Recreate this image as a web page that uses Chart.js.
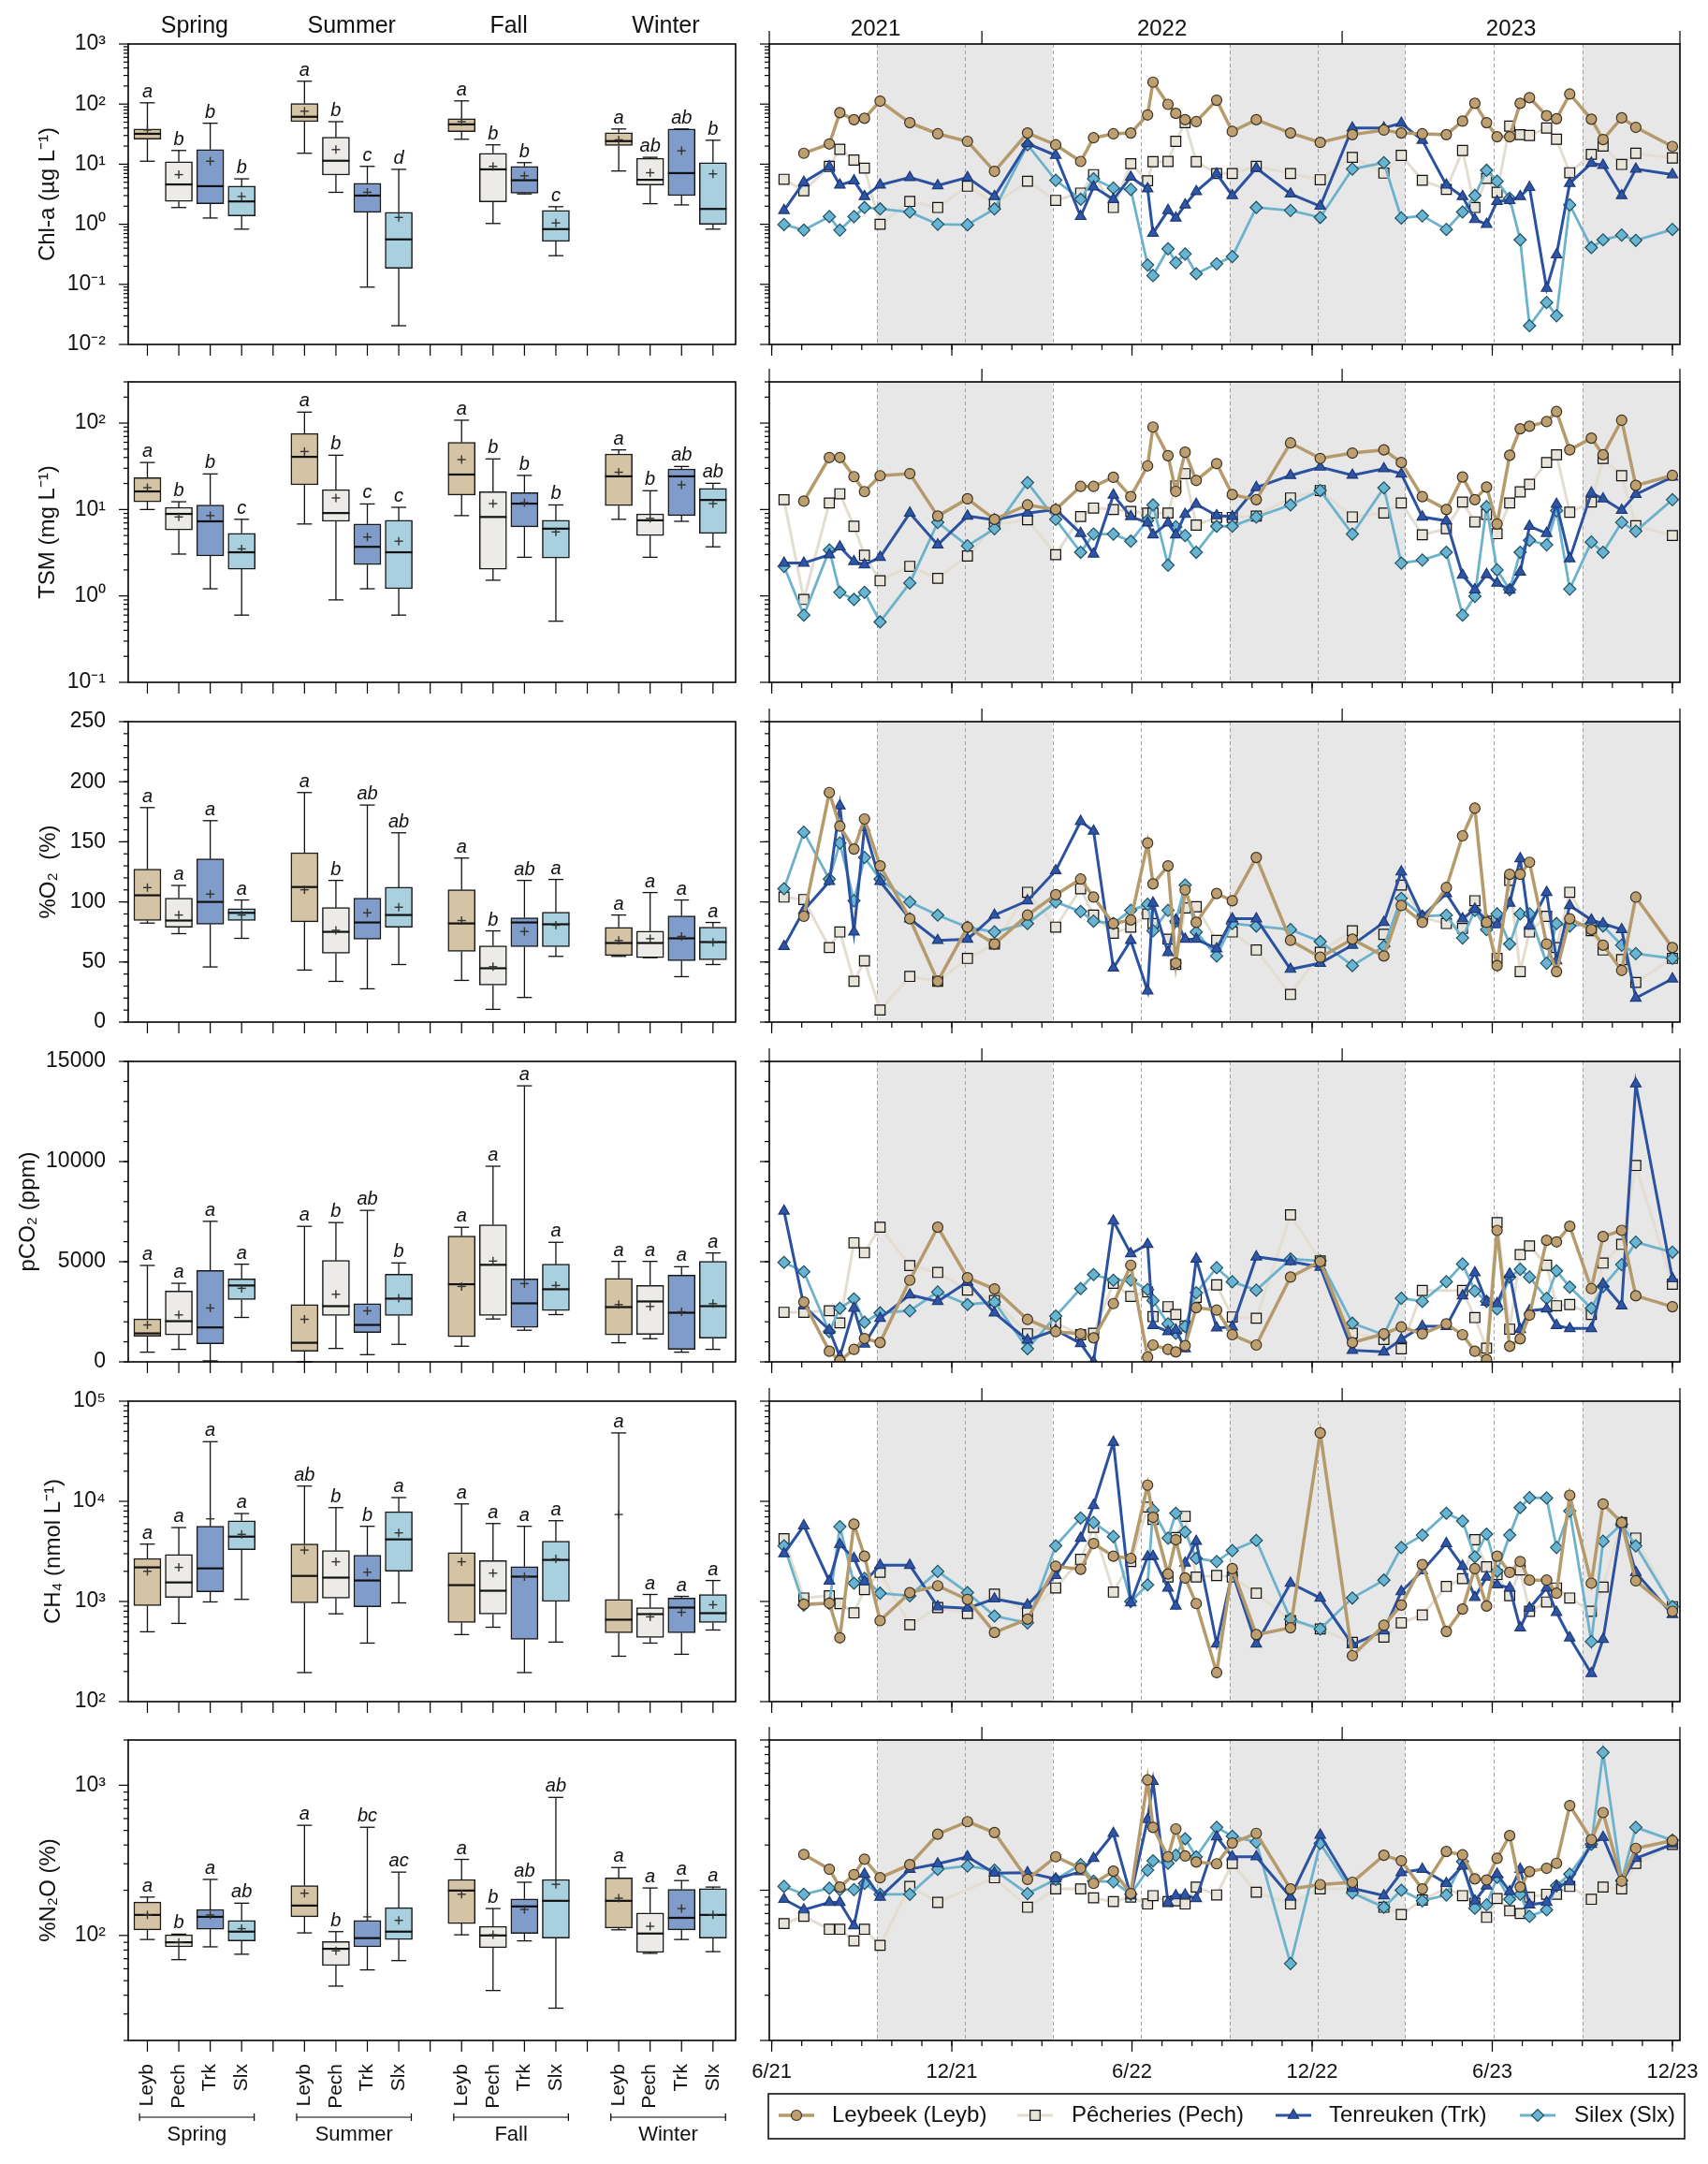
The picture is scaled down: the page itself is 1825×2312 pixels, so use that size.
<!DOCTYPE html>
<html>
<head>
<meta charset="utf-8">
<script src="https://cdn.jsdelivr.net/npm/chart.js@4.4.1/dist/chart.umd.min.js"></script>
<style>
  body { margin: 0; background: #fff; }
  #wrap { position: relative; width: 1825px; height: 2312px; background: #fff; }
  #wrap canvas { position: absolute; }
</style>
</head>
<body>
<div id="wrap"></div>
<script>
// ============================================================
// DATA
// ============================================================
const seasons = ['Spring', 'Summer', 'Fall', 'Winter'];
const stations = ['Leyb', 'Pech', 'Trk', 'Slx'];
const stationNames = ['Leybeek (Leyb)', 'Pêcheries (Pech)', 'Tenreuken (Trk)', 'Silex (Slx)'];
const years = ['2021', '2022', '2023'];
const monthLabels = ['6/21', '12/21', '6/22', '12/22', '6/23', '12/23'];
const monthLabelAt = [0, 6, 12, 18, 24, 30];           // months since June 2021
const yearBreaks = [7, 19];                              // Jan 2022, Jan 2023
const seasonBreaks = [3.5, 6.45, 9.35, 12.3, 15.25, 18.2, 21.1, 24.05, 27.0];
const coldSpans = [[3.5, 9.35], [15.25, 21.1], [27.0, 30.25]];   // fall + winter

// sampling dates, months since 1 June 2021
const sampleMonths = [0.41, 1.07, 1.92, 2.27, 2.74, 3.09, 3.61, 4.6, 5.53, 6.52, 7.42, 8.52, 9.46, 10.29, 10.72, 11.38,
  11.96, 12.52, 12.7, 13.2, 13.46, 13.77, 14.14, 14.82, 15.34, 16.14, 17.28, 18.27, 19.34, 20.39, 20.97, 21.67,
  22.47, 23.01, 23.42, 23.81, 24.16, 24.58, 24.93, 25.24, 25.81, 26.14, 26.58, 27.3, 27.69, 28.31, 28.78, 30.0];

// y tick labels
const chlTicks = [0.01, 0.1, 1, 10, 100, 1000];
const chlTickLabels = ['10⁻²', '10⁻¹', '10⁰', '10¹', '10²', '10³'];
const tsmTicks = [0.1, 1, 10, 100];
const tsmTickLabels = ['10⁻¹', '10⁰', '10¹', '10²'];
const o2Ticks = [0, 50, 100, 150, 200, 250];
const o2TickLabels = ['0', '50', '100', '150', '200', '250'];
const co2Ticks = [0, 5000, 10000, 15000];
const co2TickLabels = ['0', '5000', '10000', '15000'];
const ch4Ticks = [100, 1000, 10000, 100000];
const ch4TickLabels = ['10²', '10³', '10⁴', '10⁵'];
const n2oTicks = [100, 1000];
const n2oTickLabels = ['10²', '10³'];
const n2oRightTicks = [10, 100, 1000];

// box plots: [min, q1, median, q3, max, mean], Spring..Winter x Leyb, Pech, Trk, Slx
const chlBox = [
  [11.2, 26, 32, 38.5, 105, 37], [1.9, 2.4, 4.6, 11, 16.9, 6.7], [1.27, 2.2, 4.3, 17.5, 48, 11.2], [0.83, 1.38, 2.4, 4.3, 5.7, 2.9],
  [15.2, 51, 61.5, 102, 240, 76], [3.4, 6.6, 11.4, 28, 51, 17.5], [0.09, 1.58, 3.0, 4.8, 9.2, 3.4], [0.0205, 0.185, 0.56, 1.58, 8.2, 1.3],
  [26, 34.7, 46, 57, 113, 51], [1.03, 2.35, 8.2, 15.2, 21, 9.2], [3.2, 3.3, 5.4, 9.2, 10.6, 6.4], [0.3, 0.52, 0.83, 1.7, 1.96, 1.05],
  [7.7, 20.5, 24.2, 33.4, 38.5, 25.4], [2.2, 4.5, 5.5, 12.5, 13, 7.2], [2.1, 3.0, 7.1, 38.5, 38.5, 16.7], [0.83, 1.0, 1.8, 10.6, 25, 6.9]];
const chlLetters = ['a', 'b', 'b', 'b', 'a', 'b', 'c', 'd', 'a', 'b', 'b', 'c', 'a', 'ab', 'ab', 'b'];

const tsmBox = [
  [10, 12.3, 16.2, 23.3, 35, 17.9], [3.05, 5.8, 8.9, 10.6, 12.3, 8.2], [1.21, 2.9, 7.3, 11.3, 25.8, 8.5], [0.6, 2.04, 3.2, 5.3, 7.7, 3.5],
  [6.8, 19.3, 40.7, 76, 134, 46.9], [0.9, 7.3, 9.1, 17, 42.5, 13.6], [1.21, 2.3, 3.7, 6.8, 11.6, 4.8], [0.6, 1.21, 3.2, 7.5, 10.6, 4.3],
  [8.5, 14.7, 25.4, 60, 108, 37.8], [1.52, 2.04, 8.2, 16.1, 38.5, 11.7], [2.8, 6.3, 11.7, 15.7, 24.8, 12], [0.51, 2.75, 6.0, 7.5, 11.3, 5.5],
  [7.7, 11.1, 24.2, 44, 49, 27], [2.8, 5.0, 7.5, 8.9, 16.5, 7.9], [7.3, 8.5, 24.2, 29.5, 31.5, 19.3], [3.7, 5.3, 12.9, 17.5, 20.1, 11.7]];
const tsmLetters = ['a', 'b', 'b', 'c', 'a', 'b', 'c', 'c', 'a', 'b', 'b', 'b', 'a', 'b', 'ab', 'ab'];

const o2Box = [
  [82.4, 84.5, 105.5, 127.2, 178.5, 111.9], [73.6, 79, 84.5, 103.1, 113.7, 89.1], [45.9, 81.4, 100, 135.8, 167.6, 106.5], [69.7, 84.5, 90.9, 94.3, 101.6, 89.1],
  [43.3, 83.4, 112.4, 141, 191, 110.1], [33.9, 57.3, 75.1, 95.3, 117.9, 76.4], [27.7, 68.9, 82.9, 103.1, 180.6, 90.9], [47.9, 79, 89.1, 112.2, 157.5, 95.6],
  [34.7, 58.8, 82.1, 110.1, 136.5, 84.5], [10.6, 30.8, 44.8, 63.5, 75.9, 46.1], [20.5, 62.7, 82.9, 86.8, 117.9, 75.4], [54.7, 62.7, 81.4, 91.5, 118.7, 80.6],
  [54.7, 55.4, 65.8, 78.8, 89.1, 67.9], [53.6, 53.6, 65.8, 75.7, 107.8, 69.4], [37.8, 51, 69.7, 88.4, 101.6, 71.3], [47.9, 51.8, 66.6, 79, 82.9, 66.3]];
const o2Letters = ['a', 'a', 'a', 'a', 'a', 'b', 'ab', 'ab', 'a', 'b', 'ab', 'a', 'a', 'a', 'a', 'a'];

const co2Box = [
  [484, 1281, 1422, 2141, 4813, 1844], [625, 1344, 2031, 3531, 3922, 2344], [50, 906, 1719, 4563, 7016, 2688], [2219, 3109, 3813, 4141, 4875, 3672],
  [0, 531, 953, 2859, 6766, 2125], [672, 2313, 2781, 5063, 6953, 3375], [359, 1469, 1844, 2906, 7563, 2547], [875, 2313, 3156, 4375, 4938, 3172],
  [781, 1250, 3875, 6281, 6719, 3766], [2141, 2313, 4844, 6844, 9766, 5031], [1578, 1719, 2922, 4141, 13781, 3906], [2359, 2563, 3625, 4875, 5969, 3813],
  [953, 1344, 2734, 4172, 5016, 2859], [1156, 1375, 3016, 3813, 5016, 2766], [484, 625, 2453, 4328, 4750, 2500], [625, 1188, 2781, 5016, 5438, 2906]];
const co2Letters = ['a', 'a', 'a', 'a', 'a', 'b', 'ab', 'b', 'a', 'a', 'a', 'a', 'a', 'a', 'a', 'a'];

const ch4Box = [
  [498, 908, 2190, 2690, 3740, 2000], [604, 1100, 1550, 2940, 5470, 2190], [990, 1250, 2140, 5630, 39400, 6680], [1050, 3290, 4440, 6400, 7550, 4680],
  [195, 968, 1800, 3740, 14200, 3260], [753, 1080, 1730, 3220, 8650, 2490], [384, 887, 1620, 2890, 5630, 1960], [968, 2010, 4170, 7870, 10900, 4840],
  [467, 616, 1456, 3080, 9420, 2490], [553, 748, 1280, 2560, 6000, 1920], [195, 419, 1770, 2230, 5630, 1770], [393, 1000, 2600, 3990, 6400, 2660],
  [284, 487, 658, 1050, 48200, 7380], [384, 437, 748, 869, 1175, 702], [297, 487, 869, 1080, 1125, 780], [519, 616, 764, 1175, 1620, 927]];
const ch4Letters = ['a', 'a', 'a', 'a', 'ab', 'b', 'b', 'a', 'a', 'a', 'a', 'a', 'a', 'a', 'a', 'a'];

const n2oBox = [
  [94, 109, 137, 167, 180, 137], [69, 84, 90, 101, 102, 90], [84, 110, 133, 149, 236, 137], [75, 92, 106, 126, 164, 111],
  [104, 133, 158, 215, 541, 191], [46, 63, 81.5, 91, 106, 79], [59, 84, 96, 126, 525, 133], [68, 94, 106, 153, 264, 126],
  [101, 120, 199, 236, 321, 188], [43, 83, 100, 115, 151, 101], [92, 103, 156, 175, 226, 149], [32.8, 96, 170, 236, 830, 219],
  [109, 112, 170, 242, 283, 177], [76, 77, 103, 141, 207, 115], [94, 109, 131, 203, 232, 151], [78, 96, 137, 205, 210, 137]];
const n2oLetters = ['a', 'b', 'a', 'ab', 'a', 'b', 'bc', 'ac', 'a', 'b', 'ab', 'ab', 'a', 'a', 'a', 'a'];

// time series, one value per sampleMonths entry
const chlLeyb = [null, 15.2, 21.7, 72, 55, 58, 112, 49, 32, 24, 7.6, 33, 21, 11.1, 27.5, 32, 33, 66, 232, 99, 70, 55, 51, 116, 35, 55, 33, 23, 31, 37, 33, 32, 31, 52, 103, 49, 28.6, 28.6, 103, 128, 64, 57, 147, 56, 25.7, 59, 41, 19.7];
const chlPech = [5.6, 3.6, 9.2, 17.7, 11.7, 8.6, 1.0, 2.4, 1.9, 4.3, 2.2, 5.2, 2.5, 3.3, 6.7, 1.9, 10.2, 5.3, 11, 11.1, 24, 49, 11, 7, 7, 9.2, 7, 5.5, 13, 7.1, 14, 5.4, 3.8, 16.9, 1.9, 5.8, 3.4, 43, 31, 30, 40, 26, 7.2, 14.6, 20, 9.9, 15.2, 12.7];
const chlTrk = [1.7, 5, 9.1, 4.5, 5.3, 2.9, 4.5, 6, 4.4, 6, 2.9, 22, 14, 1.35, 4.2, 2.6, 6.1, 3.9, 0.71, 1.7, 1.27, 2.1, 3.5, 6.9, 3.0, 8.6, 3.2, 2.0, 40, 40, 48, 25, 4.5, 2.9, 1.2, 1.0, 2.4, 2.5, 2.9, 4.1, 0.086, 0.31, 4.8, 10.4, 9.6, 3.0, 8.3, 6.7];
const chlSlx = [0.99, 0.8, 1.34, 0.8, 1.34, 1.9, 1.8, 1.6, 1.0, 0.98, 1.8, 21, 5.4, 2.6, 5.7, 4.0, 3.8, 0.21, 0.14, 0.39, 0.23, 0.32, 0.15, 0.22, 0.29, 1.9, 1.7, 1.3, 8.3, 10.6, 1.27, 1.38, 0.82, 1.6, 3.0, 7.9, 5.2, 2.7, 0.55, 0.0205, 0.05, 0.03, 2.1, 0.41, 0.55, 0.66, 0.54, 0.82];

const tsmLeyb = [null, 12.5, 40, 40, 24, 16.1, 24.6, 26, 8.4, 13.3, 7.7, 11.3, 10, 18.5, 18.5, 23.6, 14.1, 32, 90, 42, 16.2, 46, 21.7, 34, 14.9, 13, 59, 39, 45, 49, 35, 14.1, 10, 23.8, 13, 18.2, 6.8, 42.5, 86, 92, 104, 136, 49, 67, 43, 108, 19, 24.8];
const tsmPech = [13, 0.91, 11.9, 15.2, 6.4, 2.96, 1.5, 2.2, 1.6, 2.9, 6.7, 7.6, 3.0, 8.3, 10.4, 10, 9.5, 9.1, 9.1, 9.1, 18.8, 26, 6.6, 8.1, 8.1, 8.4, 13.6, 16.6, 8.2, 9.1, 11.9, 5.1, 6.0, 12.2, 7.2, 8.8, 5.25, 11.9, 16, 19.6, 35, 43, 9.3, 12.2, 39, 24.6, 6.5, 5.0];
const tsmTrk = [2.4, 2.4, 3.0, 3.7, 2.5, 2.3, 2.8, 9.1, 3.9, 8.4, 7.6, 9.1, 10, 5.3, 3.05, 14.7, 8.3, 7.0, 5.1, 7.0, 5.1, 8.8, 11.5, 8.5, 8.3, 18, 24.8, 31, 25, 29.7, 25.8, 8.2, 7.4, 1.74, 1.18, 1.77, 1.41, 1.17, 1.89, 6.4, 5.3, 11.5, 2.7, 15.5, 13.3, 9.8, 15, 23.8];
const tsmSlx = [2.2, 0.6, 3.4, 1.1, 0.91, 1.1, 0.5, 1.41, 7.1, 3.8, 6.0, 20.5, 7.7, 3.2, 5.2, 5.2, 4.3, 7.5, 11.3, 2.27, 6.3, 5.0, 3.2, 6.4, 6.4, 8.2, 11.3, 16.6, 5.2, 17.8, 2.4, 2.6, 3.2, 0.6, 0.99, 10.8, 2.0, 1.18, 3.2, 4.4, 3.9, 9.7, 1.2, 4.2, 3.2, 7.1, 5.6, 13];

const o2Leyb = [null, 88, 191, 163, 144, 169, 130, 86, 34, 79, 65, 89, 106, 119, 104, 82, 85, 149, 115, 130, 49, 110, 83, 107, 101, 137, 68, 54, 69, 55, 97, 83, 112, 155, 178, 83, 47, 123, 123, 133, 65, 42, 86, 77, 64, 43, 104, 62];
const o2Pech = [104, 102, 62, 75, 34, 51, 10, 38, 34, 53, 65, 108, 79, 111, 89, 74, 79, 90, 82, 69, 48, 95, 96, 68, 75, 60, 23, 58, 76, 73, 114, 87, 82, 78, 101, 84, 53, 118, 42, 75, 88, 62, 108, 76, 60, 52, 33, 53];
const o2Trk = [63, 93, 117, 180, 75, 162, 117, 86, 68, 69, 89, 101, 126, 167, 159, 45, 68, 26, 99, 58, 85, 69, 69, 61, 86, 86, 44, 49, 64, 83, 125, 88, 107, 86, 94, 85, 81, 99, 136, 80, 108, 51, 97, 85, 82, 77, 20, 36];
const o2Slx = [111, 158, 119, 149, 101, 137, 119, 100, 89, 79, 75, 82, 100, 92, 84, 82, 93, 98, 76, 93, 84, 114, 75, 55, 82, 80, 77, 67, 47, 63, 103, 88, 89, 70, 93, 77, 90, 65, 90, 90, 49, 82, 80, 82, 80, 64, 57, 53];

const co2Leyb = [null, 2988, 529, 50, 622, 1167, 965, 4077, 6722, 4201, 3641, 2116, 1509, 1400, 1198, 2910, 4824, 233, 840, 622, 498, 809, 2707, 2583, 1354, 840, 4232, 5010, 965, 1400, 1743, 1400, 1898, 1354, 529, 109, 6566, 778, 1151, 2334, 6068, 5991, 6769, 3657, 6255, 6566, 3299, 2754];
const co2Pech = [2474, 2474, 2552, 1945, 5944, 5446, 6722, 4808, 4466, 3579, 3065, 1400, 1929, 1354, 1432, 3921, 3268, 3485, 2256, 2754, 2365, 1789, 3221, 3843, 2241, 2178, 7344, 5041, 1432, 1120, 654, 3563, null, 3563, 2210, 685, 6955, 1634, 5353, 5788, 4824, 2801, 2863, 2365, 4933, 5866, 9803, 3874];
const co2Trk = [7531, 2801, 1587, 265, 2676, 887, 2178, 3345, 3019, 3999, 2443, 1089, 1587, 918, 0, 7033, 5399, 5866, 1820, 1509, 1587, 654, 5135, 1696, 1743, 5244, 5010, 4730, 576, 498, 1120, 1774, 1774, 3299, 4450, 2988, 2910, 4388, 1618, 2552, 2645, 1820, 1665, 1665, 3890, 2801, 13880, 4155];
const co2Slx = [4964, 4497, 1509, 2676, 3143, 1976, 2443, 2552, 3485, 2863, 2988, 654, 2287, 3657, 4357, 4077, 4077, 3610, 3065, 1898, 1432, 1774, 3454, 4699, 3999, 3579, 5135, 5041, 1929, 1354, 3174, 3019, 3999, 4886, 3532, 3019, 2645, 4232, 4621, 4232, 3174, 4544, 3734, 2676, 3766, 4855, 5975, 5477];

const ch4Leyb = [null, 940, 962, 434, 5916, 2830, 643, 1224, 1434, 1048, 490, 666, 2250, 2094, 3793, 2830, 2692, 14500, 6930, 1883, 4136, 1715, 953, 195, 2127, 467, 546, 48200, 287, 578, 921, 2333, 501, 840, 2127, 901, 2830, 1952, 2506, 1633, 1633, 1208, 11500, 1521, 9420, 6140, 1607, 798];
const ch4Pech = [4230, 1083, 1140, 953, 769, 1316, 1952, 586, 869, 759, 1183, 787, 1365, 2636, 5505, 1242, 2506, 8770, 6590, 1754, 4345, 7080, 1754, 1817, 1754, 1208, 643, 531, 390, 440, 612, 733, 1413, 1690, 4136, 2220, 1858, 1140, 2065, 798, 988, 1365, 1083, 798, 1393, 6140, 4290, 887];
const ch4Trk = [3000, 5710, 1597, 3716, 2692, 1574, 2300, 2300, 887, 857, 1062, 921, 1817, 4290, 9100, 38900, 968, 2793, 2830, 1365, 901, 2420, 3990, 376, 1952, 376, 1521, 1083, 371, 508, 1253, 2024, 3793, 2250, 1099, 1754, 1466, 1365, 546, 857, 1365, 780, 434, 191, 419, 6140, 1952, 741];
const ch4Slx = [3590, 921, 953, 5580, 1521, 1700, 1208, 1140, 1995, 1224, 716, 612, 3590, 6820, 6140, 4450, 1000, 1466, 8170, 4290, 7600, 4940, 2692, 2506, 3220, 4070, 666, 531, 1083, 1633, 3460, 4600, 7600, 6350, 2793, 4710, 2000, 4600, 8650, 10870, 10800, 3460, 8000, 398, 3990, 5916, 3590, 887];

const n2oLeyb = [null, 173, 138, 105, 127, 161, 121, 148, 236, 286, 242, 118, 167, 140, 111, 134, 95, 542, 262, 167, 256, 169, 154, 150, 206, 239, 102, 109, 113, 171, 157, 102, 181, 172, 119, 117, 163, 231, 105, 133, 140, 151, 366, 217, 329, 115, 190, 214];
const n2oPech = [60, 67, 55, 55, 46, 55, 43, 106, 83, null, 121, 77, 102, 102, 89, 84, 90, 81, 92, 84, 85, 81, 105, 93, 151, 97, 81, 102, 103, 77, 69, 86, 103, 92, 82, 66, 88, 73, 70, 90, 94, 94, 106, 87, 105, 102, 151, 202];
const n2oTrk = [87, 74, 83, 83, 58, 128, 90, 138, 150, 167, 130, 131, 119, 133, 163, 239, 92, 296, 530, 83, 92, 93, 88, 227, 167, 167, 90, 233, 103, 92, 131, 138, 111, 145, 85, 107, 128, 98, 138, 80, 83, 105, 114, 202, 225, 114, 163, 202];
const n2oSlx = [106, 94, 103, 101, 101, 111, 94, 94, 138, 145, 136, 95, 118, 148, 115, 114, 94, 136, 157, 151, 171, 220, 167, 262, 229, 209, 32.5, 205, 96, 77, 100, 85, 93, 155, 76, 80, 122, 87, 94, 67, 74, 107, 128, 202, 826, 116, 262, 215];

// ============================================================
// STYLES / LAYOUT
// ============================================================
const FONT = '"Liberation Sans", Arial, Helvetica, sans-serif';
Chart.defaults.font.family = FONT;
Chart.defaults.color = '#111';
Chart.defaults.animation = false;

const boxFill = ['#d4c3a4', '#ecebe7', '#7f9ccb', '#a9d0de'];
const stationStyle = [
  { line: '#b59a6c', width: 3.5, fill: '#bd9f72', edge: '#3d3220', shape: 'circle', r: 5.5 },
  { line: '#e4ded2', width: 3, fill: '#e8e4da', edge: '#111111', shape: 'rect', r: 7.5 },
  { line: '#2b51a1', width: 3, fill: '#2f56a6', edge: '#1d3874', shape: 'triangle', r: 6.5 },
  { line: '#6cb2cd', width: 2.8, fill: '#68b4d1', edge: '#1f4f63', shape: 'rectRot', r: 6.5 },
];
const drawOrder = [0, 2, 3, 1];   // Leyb on top, Pech underneath

const rows = [
  { title: 'Chl-a (µg L⁻¹)', pad: 37, log: true, min: 0.01, max: 1000, ticks: chlTicks, labels: chlTickLabels,
    box: chlBox, letters: chlLetters, series: [chlLeyb, chlPech, chlTrk, chlSlx] },
  { title: 'TSM (mg L⁻¹)', pad: 37, log: true, min: 0.1, max: 300, ticks: tsmTicks, labels: tsmTickLabels,
    box: tsmBox, letters: tsmLetters, series: [tsmLeyb, tsmPech, tsmTrk, tsmSlx] },
  { title: '%O₂  (%)', pad: 38, log: false, min: 0, max: 250, minor: 10, ticks: o2Ticks, labels: o2TickLabels,
    box: o2Box, letters: o2Letters, series: [o2Leyb, o2Pech, o2Trk, o2Slx] },
  { title: 'pCO₂ (ppm)', pad: 16, log: false, min: 0, max: 15000, minor: 1000, ticks: co2Ticks, labels: co2TickLabels,
    box: co2Box, letters: co2Letters, series: [co2Leyb, co2Pech, co2Trk, co2Slx] },
  { title: 'CH₄ (nmol L⁻¹)', pad: 43, log: true, min: 100, max: 100000, ticks: ch4Ticks, labels: ch4TickLabels,
    box: ch4Box, letters: ch4Letters, series: [ch4Leyb, ch4Pech, ch4Trk, ch4Slx] },
  { title: '%N₂O (%)', pad: 38, log: true, min: 20, max: 2000, ticks: n2oTicks, labels: n2oTickLabels,
    rmin: 10, rmax: 1000, rticks: n2oRightTicks,
    box: n2oBox, letters: n2oLetters, series: [n2oLeyb, n2oPech, n2oTrk, n2oSlx] },
];

const rowTop = [47, 408, 771, 1134, 1497, 1859];
const PLOT_H = 321, TOP_PAD = 46;
const X_MIN = -0.08, X_MAX = 30.25;
const slot = i => Math.floor(i / 4) * 5 + (i % 4);
const slots = Array.from({ length: 19 }, (_, i) => i);
const months = Array.from({ length: 31 }, (_, i) => i);

function minorTicks(log, min, max, step) {
  const out = [];
  if (log) {
    for (let e = Math.floor(Math.log10(min)); e <= Math.ceil(Math.log10(max)); e++)
      for (let k = 2; k <= 9; k++) {
        const v = k * Math.pow(10, e);
        if (v >= min * 0.999 && v <= max * 1.001) out.push(v);
      }
  } else {
    for (let v = min; v <= max; v += step) out.push(v);
  }
  return out;
}

function marker(ctx, shape, x, y, r) {
  ctx.beginPath();
  if (shape === 'circle') ctx.arc(x, y, r, 0, Math.PI * 2);
  else if (shape === 'rect') { const s = r * Math.SQRT1_2; ctx.rect(x - s, y - s, 2 * s, 2 * s); }
  else if (shape === 'triangle') {
    ctx.moveTo(x, y - r);
    ctx.lineTo(x + r * 0.866, y + r / 2);
    ctx.lineTo(x - r * 0.866, y + r / 2);
    ctx.closePath();
  } else { ctx.moveTo(x - r, y); ctx.lineTo(x, y - r); ctx.lineTo(x + r, y); ctx.lineTo(x, y + r); ctx.closePath(); }
  ctx.fill(); ctx.stroke();
}

function makeCanvas(left, top, w, h) {
  const c = document.createElement('canvas');
  c.width = w; c.height = h;
  c.style.left = left + 'px'; c.style.top = top + 'px';
  c.style.width = w + 'px'; c.style.height = h + 'px';
  document.getElementById('wrap').appendChild(c);
  return c;
}

// axes frame, tick marks, shading, extra labels
function framePlugin(f) {
  return {
    id: 'frame',
    beforeDatasetsDraw(chart) {
      if (!f.shade) return;
      const { ctx, chartArea: a, scales: { x } } = chart;
      ctx.save();
      ctx.fillStyle = '#e7e7e7';
      f.shade.forEach(([s, e]) => {
        const x0 = Math.max(a.left, x.getPixelForValue(s)), x1 = Math.min(a.right, x.getPixelForValue(e));
        ctx.fillRect(x0, a.top, x1 - x0, a.bottom - a.top);
      });
      ctx.strokeStyle = '#a3a3a3'; ctx.lineWidth = 1; ctx.setLineDash([4, 3]);
      f.dashed.forEach(v => {
        const px = Math.round(x.getPixelForValue(v)) + 0.5;
        ctx.beginPath(); ctx.moveTo(px, a.top); ctx.lineTo(px, a.bottom); ctx.stroke();
      });
      ctx.restore();
    },
    afterDraw(chart) {
      const { ctx, chartArea: a, scales: { x, y } } = chart;
      const seg = (x0, y0, x1, y1) => { ctx.beginPath(); ctx.moveTo(x0, y0); ctx.lineTo(x1, y1); ctx.stroke(); };
      ctx.save();
      ctx.strokeStyle = '#000'; ctx.lineWidth = 1.6;
      ctx.strokeRect(a.left, a.top, a.right - a.left, a.bottom - a.top);
      ctx.lineWidth = 1.2;
      f.yMajor.forEach(v => { const p = y.getPixelForValue(v); seg(a.left - 10, p, a.left, p); });
      f.yMinor.forEach(v => { const p = y.getPixelForValue(v); seg(a.left - 5, p, a.left, p); });
      f.xMinor.forEach(v => { const p = x.getPixelForValue(v); seg(p, a.bottom, p, a.bottom + f.xMinorLen); });
      f.xMajor.forEach(v => { const p = x.getPixelForValue(v); seg(p, a.bottom, p, a.bottom + f.xMajorLen); });
      if (f.topTicks) f.topTicks.forEach(v => { const p = x.getPixelForValue(v); seg(p, a.top, p, a.top - 14); });
      ctx.fillStyle = '#111'; ctx.textAlign = 'center'; ctx.textBaseline = 'middle';
      if (f.topLabels) {
        ctx.font = f.topFont + 'px ' + FONT;
        f.topLabels.forEach(([t, v]) => ctx.fillText(t, x.getPixelForValue(v), a.top - f.topGap));
      }
      if (f.brackets) {
        ctx.font = '22px ' + FONT;
        seasons.forEach((s, g) => {
          const x0 = x.getPixelForValue(g * 5 - 0.25), x1 = x.getPixelForValue(g * 5 + 3.4), yb = a.bottom + 82;
          seg(x0, yb, x1, yb); seg(x0, yb - 4, x0, yb + 4); seg(x1, yb - 4, x1, yb + 4);
          ctx.fillText(s, (x0 + x1) / 2, yb + 19);
        });
      }
      if (f.legend) {
        const ly = 447, mx = [51, 306, 582, 843], tx = [89, 345, 620, 882];
        ctx.strokeStyle = '#000'; ctx.lineWidth = 1.5;
        ctx.strokeRect(21, 424, 979, 48);
        ctx.font = '24px ' + FONT; ctx.textAlign = 'left';
        stationStyle.forEach((st, k) => {
          ctx.strokeStyle = st.line; ctx.lineWidth = st.width;
          seg(mx[k] - 19, ly, mx[k] + 19, ly);
          ctx.fillStyle = st.fill; ctx.strokeStyle = st.edge; ctx.lineWidth = 1.2;
          marker(ctx, st.shape, mx[k], ly, st.r);
          ctx.fillStyle = '#111';
          ctx.fillText(stationNames[k], tx[k], ly);
        });
      }
      ctx.restore();
    }
  };
}

// whiskers, medians, means and letters on top of the floating bars
function boxPlugin(r) {
  return {
    id: 'boxes',
    afterDatasetsDraw(chart) {
      const { ctx, scales: { x, y } } = chart;
      const seg = (x0, y0, x1, y1) => { ctx.beginPath(); ctx.moveTo(x0, y0); ctx.lineTo(x1, y1); ctx.stroke(); };
      ctx.save();
      ctx.font = 'italic 20px ' + FONT; ctx.textAlign = 'center'; ctx.textBaseline = 'alphabetic';
      ctx.fillStyle = '#111';
      r.box.forEach((b, i) => {
        const [mn, q1, md, q3, mx, mean] = b;
        const px = x.getPixelForValue(slot(i)), py = v => y.getPixelForValue(v);
        ctx.strokeStyle = '#111'; ctx.lineWidth = 1.3;
        seg(px, py(q3), px, py(mx)); seg(px, py(q1), px, py(mn));
        seg(px - 8, py(mx), px + 8, py(mx)); seg(px - 8, py(mn), px + 8, py(mn));
        ctx.lineWidth = 2.2;
        seg(px - 14.5, py(md), px + 14.5, py(md));
        ctx.strokeStyle = '#333'; ctx.lineWidth = 1.4;
        seg(px - 4.5, py(mean), px + 4.5, py(mean)); seg(px, py(mean) - 4.5, px, py(mean) + 4.5);
        ctx.fillText(r.letters[i], px, py(mx) - 6);
      });
      ctx.restore();
    }
  };
}

function yAxis(r, left) {
  const min = !left && r.rmin ? r.rmin : r.min, max = !left && r.rmax ? r.rmax : r.max;
  return {
    type: r.log ? 'logarithmic' : 'linear', min, max,
    grid: { display: false }, border: { display: false },
    afterBuildTicks: s => { s.ticks = r.ticks.map(v => ({ value: v })); },
    afterFit: s => { s.width = left ? 137 : 22; s.paddingTop = 0; s.paddingBottom = 0; },
    ticks: { display: left, padding: 16, font: { size: 23 }, callback: (v, i) => r.labels[i] },
    title: { display: left, text: r.title, font: { size: 24 }, padding: { top: r.pad, bottom: 0 } }
  };
}

function leftChart(r, i, bottomH, last) {
  const c = makeCanvas(0, rowTop[i] - TOP_PAD, 800, TOP_PAD + PLOT_H + bottomH);
  new Chart(c, {
    type: 'bar',
    data: {
      datasets: [{
        data: r.box.map((b, k) => ({ x: slot(k), y: [b[1], b[3]] })),
        backgroundColor: r.box.map((b, k) => boxFill[k % 4]),
        borderColor: '#1a1a1a', borderWidth: 1.5, borderSkipped: false,
        barThickness: 29, grouped: false
      }]
    },
    options: {
      responsive: false, events: [],
      layout: { padding: { top: TOP_PAD, right: 14, left: 0, bottom: 0 } },
      plugins: { legend: { display: false }, tooltip: { enabled: false } },
      scales: {
        x: {
          type: 'linear', min: -0.61, max: 18.72, offset: false,
          grid: { display: false }, border: { display: false },
          afterBuildTicks: s => { s.ticks = slots.map(v => ({ value: v })); },
          afterFit: s => { s.height = bottomH; s.paddingLeft = 0; s.paddingRight = 0; },
          ticks: { display: last, autoSkip: false, minRotation: 90, maxRotation: 90, padding: 17, font: { size: 21 },
                   callback: v => (v % 5 === 4 ? '' : stations[v % 5]) }
        },
        y: yAxis(r, true)
      }
    },
    plugins: [framePlugin({
      yMajor: r.ticks, yMinor: minorTicks(r.log, r.min, r.max, r.minor),
      xMajor: slots, xMinor: [], xMajorLen: 12, xMinorLen: 0,
      topLabels: i === 0 ? seasons.map((s, g) => [s, g * 5 + 1.5]) : null, topFont: 25, topGap: 19,
      brackets: last
    }), boxPlugin(r)]
  });
}

function rightChart(r, i, bottomH, last) {
  const c = makeCanvas(800, rowTop[i] - TOP_PAD, 1025, TOP_PAD + PLOT_H + bottomH);
  const yr = r.rticks ? Object.assign({}, r, { ticks: r.rticks }) : r;
  const edges = [X_MIN, ...yearBreaks, X_MAX];
  new Chart(c, {
    type: 'line',
    data: {
      datasets: drawOrder.map(k => {
        const st = stationStyle[k];
        return {
          label: stationNames[k],
          data: sampleMonths.map((m, j) => ({ x: m, y: r.series[k][j] })),
          borderColor: st.line, borderWidth: st.width, tension: 0, spanGaps: true,
          pointStyle: st.shape, pointRadius: st.r, pointBackgroundColor: st.fill,
          pointBorderColor: st.edge, pointBorderWidth: 1.2
        };
      })
    },
    options: {
      responsive: false, events: [],
      layout: { padding: { top: TOP_PAD, right: 30, left: 0, bottom: 0 } },
      plugins: { legend: { display: false }, tooltip: { enabled: false } },
      scales: {
        x: {
          type: 'linear', min: X_MIN, max: X_MAX,
          grid: { display: false }, border: { display: false },
          afterBuildTicks: s => { s.ticks = monthLabelAt.map(v => ({ value: v })); },
          afterFit: s => { s.height = bottomH; s.paddingLeft = 0; s.paddingRight = 0; },
          ticks: { display: last, autoSkip: false, maxRotation: 0, padding: 13, font: { size: 22 },
                   callback: (v, j) => monthLabels[j] }
        },
        y: yAxis(yr, false)
      }
    },
    plugins: [framePlugin({
      yMajor: yr.ticks, yMinor: minorTicks(r.log, r.rmin || r.min, r.rmax || r.max, r.minor),
      xMajor: monthLabelAt, xMinor: months, xMajorLen: 12, xMinorLen: 6,
      topTicks: edges,
      topLabels: i === 0 ? years.map((t, k) => [t, (edges[k] + edges[k + 1]) / 2]) : null, topFont: 24, topGap: 16,
      shade: coldSpans, dashed: seasonBreaks, legend: last
    })]
  });
}

rows.forEach((r, i) => {
  const last = i === rows.length - 1;
  const bottomH = last ? 2312 - (rowTop[i] - TOP_PAD) - TOP_PAD - PLOT_H : 20;
  leftChart(r, i, bottomH, last);
  rightChart(r, i, bottomH, last);
});
</script>
</body>
</html>
